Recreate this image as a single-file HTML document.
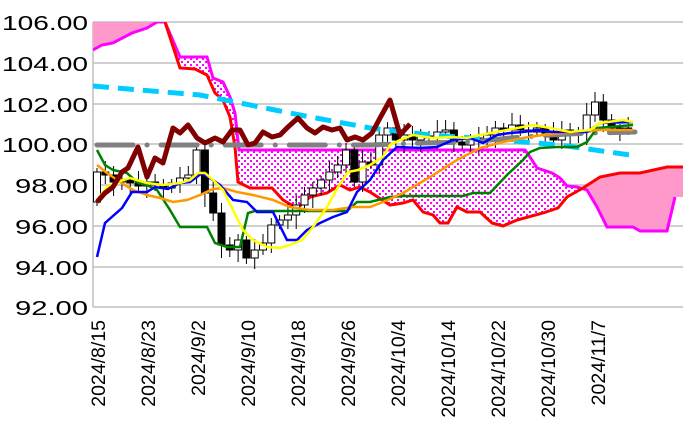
<!DOCTYPE html>
<html><head><meta charset="utf-8"><style>
html,body{margin:0;padding:0;background:#fff;}
svg{display:block;font-family:"Liberation Sans",sans-serif;}
</style></head><body>
<svg id="c" width="683" height="442" viewBox="0 0 683 442" xmlns="http://www.w3.org/2000/svg">
<defs>
<pattern id="dots" width="6" height="6" patternUnits="userSpaceOnUse">
<rect width="6" height="6" fill="#fff"/>
<rect x="1" y="1" width="2" height="2" fill="#ff00ff"/>
<rect x="4" y="4" width="2" height="2" fill="#ff00ff"/>
</pattern>
<clipPath id="pa"><rect x="93" y="22" width="590" height="285"/></clipPath>
</defs>
<g stroke="#bfbfbf" stroke-width="1.5">
<line x1="93" y1="22" x2="683" y2="22"/><line x1="93" y1="63" x2="683" y2="63"/>
<line x1="93" y1="104" x2="683" y2="104"/><line x1="93" y1="144" x2="683" y2="144"/>
<line x1="93" y1="185" x2="683" y2="185"/><line x1="93" y1="226" x2="683" y2="226"/>
<line x1="93" y1="267" x2="683" y2="267"/><line x1="93" y1="307" x2="683" y2="307"/>
<line x1="93" y1="22" x2="93" y2="307"/>
</g>
<g font-size="20" fill="#000" text-anchor="end">
<text x="88" y="30" textLength="86" lengthAdjust="spacingAndGlyphs">106.00</text>
<text x="88" y="71" textLength="86" lengthAdjust="spacingAndGlyphs">104.00</text>
<text x="88" y="112" textLength="86" lengthAdjust="spacingAndGlyphs">102.00</text>
<text x="88" y="152" textLength="86" lengthAdjust="spacingAndGlyphs">100.00</text>
<text x="88" y="193" textLength="73" lengthAdjust="spacingAndGlyphs">98.00</text>
<text x="88" y="234" textLength="73" lengthAdjust="spacingAndGlyphs">96.00</text>
<text x="88" y="275" textLength="73" lengthAdjust="spacingAndGlyphs">94.00</text>
<text x="88" y="315" textLength="73" lengthAdjust="spacingAndGlyphs">92.00</text>
</g>
<g id="xl" font-size="19.5" fill="#000"></g>
<g clip-path="url(#pa)" id="plot">
<polygon fill="#ff99cc" points="93,50 102,45 113,43 132,33 147,28 157,22 93,22"/>
<polygon fill="url(#dots)" points="165,22 180,57 207,57 213,78 223,82 230,97 235,113 239,150 380,150 525,150 530,157 537,168 552,173 560,178 567,186 577,187 583,188 567,197 558,208 543,213 517,220 503,226 492,223 480,212 467,212 457,207 448,223 440,223 433,215 423,212 413,200 403,203 390,205 370,192 360,187 350,190 340,185 327,193 310,197 297,208 283,200 272,188 250,188 238,182 235,147 230,117 223,100 215,93 207,75 195,69 180,68"/>
<polygon fill="#ff99cc" points="583,188 600,177 620,173 640,173 667,167 683,167 683,197 675,197 667,231 640,231 633,227 607,227 597,207 587,190"/>
<polyline fill="none" stroke="#ff00ff" stroke-width="3" points="93,50 102,45 113,43 132,33 147,28 157,22 165,22 180,57 207,57 213,78 223,82 230,97 235,113 239,150 380,150 525,150 530,157 537,168 552,173 560,178 567,186 577,187 587,190 597,207 607,227 633,227 640,231 667,231 675,197"/>
<polyline fill="none" stroke="#ff0000" stroke-width="3" points="165,22 180,68 195,69 207,75 215,93 223,100 230,117 235,147 238,182 250,188 272,188 283,200 297,208 310,197 327,193 340,185 350,190 360,187 370,192 390,205 403,203 413,200 423,212 433,215 440,223 448,223 457,207 467,212 480,212 492,223 503,226 517,220 543,213 558,208 567,197 583,188 600,177 620,173 640,173 667,167 683,167"/>
<g id="candles"></g>
<polyline fill="none" stroke="#00ccff" stroke-width="5" stroke-dasharray="16,9" points="93,86 140,90 200,95 240,103 300,115 370,128 430,135 500,140 560,145 630,155"/>
<polyline fill="none" stroke="#808080" stroke-width="5" stroke-linecap="round" stroke-dasharray="36,14,0.1,14" points="97,145 370,145 420,143 470,142 510,138 550,135 590,133 635,132"/>
<polyline fill="none" stroke="#008000" stroke-width="2.5" points="97,150 105,165 113,170 127,173 138,183 147,185 157,190 170,210 180,227 207,227 215,243 227,247 240,247 248,213 255,211 347,211 357,202 370,202 390,197 403,196 463,196 473,193 490,193 507,175 523,160 530,152 540,148 557,147 577,147 587,142 597,128 610,127 633,125"/>
<polyline fill="none" stroke="#ff9900" stroke-width="2.5" points="97,165 107,173 120,182 133,190 147,195 160,198 173,202 187,200 200,195 213,189 223,188 237,192 253,195 273,200 290,207 310,210 333,210 353,207 370,207 383,202 403,193 430,177 457,160 480,148 503,142 523,138 543,135 563,133 583,132 597,130 633,130"/>
<polyline fill="none" stroke="#0000ff" stroke-width="2.5" points="97,257 105,223 122,208 132,192 147,192 155,187 168,189 180,183 190,182 202,173 220,185 233,200 247,202 257,212 273,212 287,240 297,240 307,230 320,223 333,217 347,212 357,192 370,180 383,160 397,147 420,148 437,147 453,140 470,138 483,143 497,135 510,133 523,132 537,130 553,132 570,132 587,132 600,123 633,122"/>
<polyline fill="none" stroke="#ffff00" stroke-width="2.5" points="97,200 107,187 117,182 130,178 147,183 163,185 180,183 190,180 198,173 205,173 213,180 223,190 233,210 243,230 253,240 267,247 280,248 290,245 302,240 313,227 327,207 338,187 348,172 358,170 370,165 383,157 390,145 400,140 413,135 433,138 450,137 467,138 480,135 507,130 533,125 550,128 570,132 590,130 600,123 623,120 633,122"/>
<polyline fill="none" stroke="#800000" stroke-width="5" stroke-linejoin="round" points="97,202 105,193 113,187 122,172 128,168 138,147 147,177 155,158 163,163 173,128 180,133 188,125 197,138 205,143 215,138 223,142 232,130 240,130 248,145 255,143 263,132 272,137 280,135 288,127 298,118 307,128 315,133 323,127 332,130 340,128 347,140 355,137 363,140 372,133 380,118 390,100 400,135 410,124"/>
</g>
</svg>
<script>
(function(){
var NS="http://www.w3.org/2000/svg";
var cl=[172,175,182,180,183,186,182,185,188,183,178,175,150,193,213,245,250,240,258,250,243,225,220,215,205,195,188,180,172,165,150,182,162,165,135,128,140,135,140,136,138,132,130,142,145,138,140,135,128,130,125,130,132,128,133,140,130,135,132,115,102,120,128,128,130];
var g=document.getElementById("candles");
var prev=202;
for(var i=0;i<cl.length;i++){
 var x=97+i*8.3, o=prev, c=cl[i];
 var tp=Math.min(o,c), bt=Math.max(o,c); if(bt-tp<2)bt=tp+2;
 var hi=tp-4-(i*7%9), lo=bt+4+(i*5%11);
 var l=document.createElementNS(NS,"line");
 l.setAttribute("x1",x);l.setAttribute("x2",x);l.setAttribute("y1",hi);l.setAttribute("y2",lo);
 l.setAttribute("stroke","#000");l.setAttribute("stroke-width","1");g.appendChild(l);
 var r=document.createElementNS(NS,"rect");
 r.setAttribute("x",x-3.5);r.setAttribute("y",tp);r.setAttribute("width",7);r.setAttribute("height",bt-tp);
 r.setAttribute("fill",c<o?"#fff":"#000");r.setAttribute("stroke","#000");r.setAttribute("stroke-width","1");
 g.appendChild(r); prev=c;
}
var labs=["2024/8/15","2024/8/23","2024/9/2","2024/9/10","2024/9/18","2024/9/26","2024/10/4","2024/10/14","2024/10/22","2024/10/30","2024/11/7"];
var xl=document.getElementById("xl");
for(var j=0;j<labs.length;j++){
 var t=document.createElementNS(NS,"text");
 var x=98+j*50+7;
 t.setAttribute("transform","translate("+x+",320) rotate(-90)");
 t.setAttribute("text-anchor","end");
 t.textContent=labs[j]; xl.appendChild(t);
}
})();
</script>
</body></html>
